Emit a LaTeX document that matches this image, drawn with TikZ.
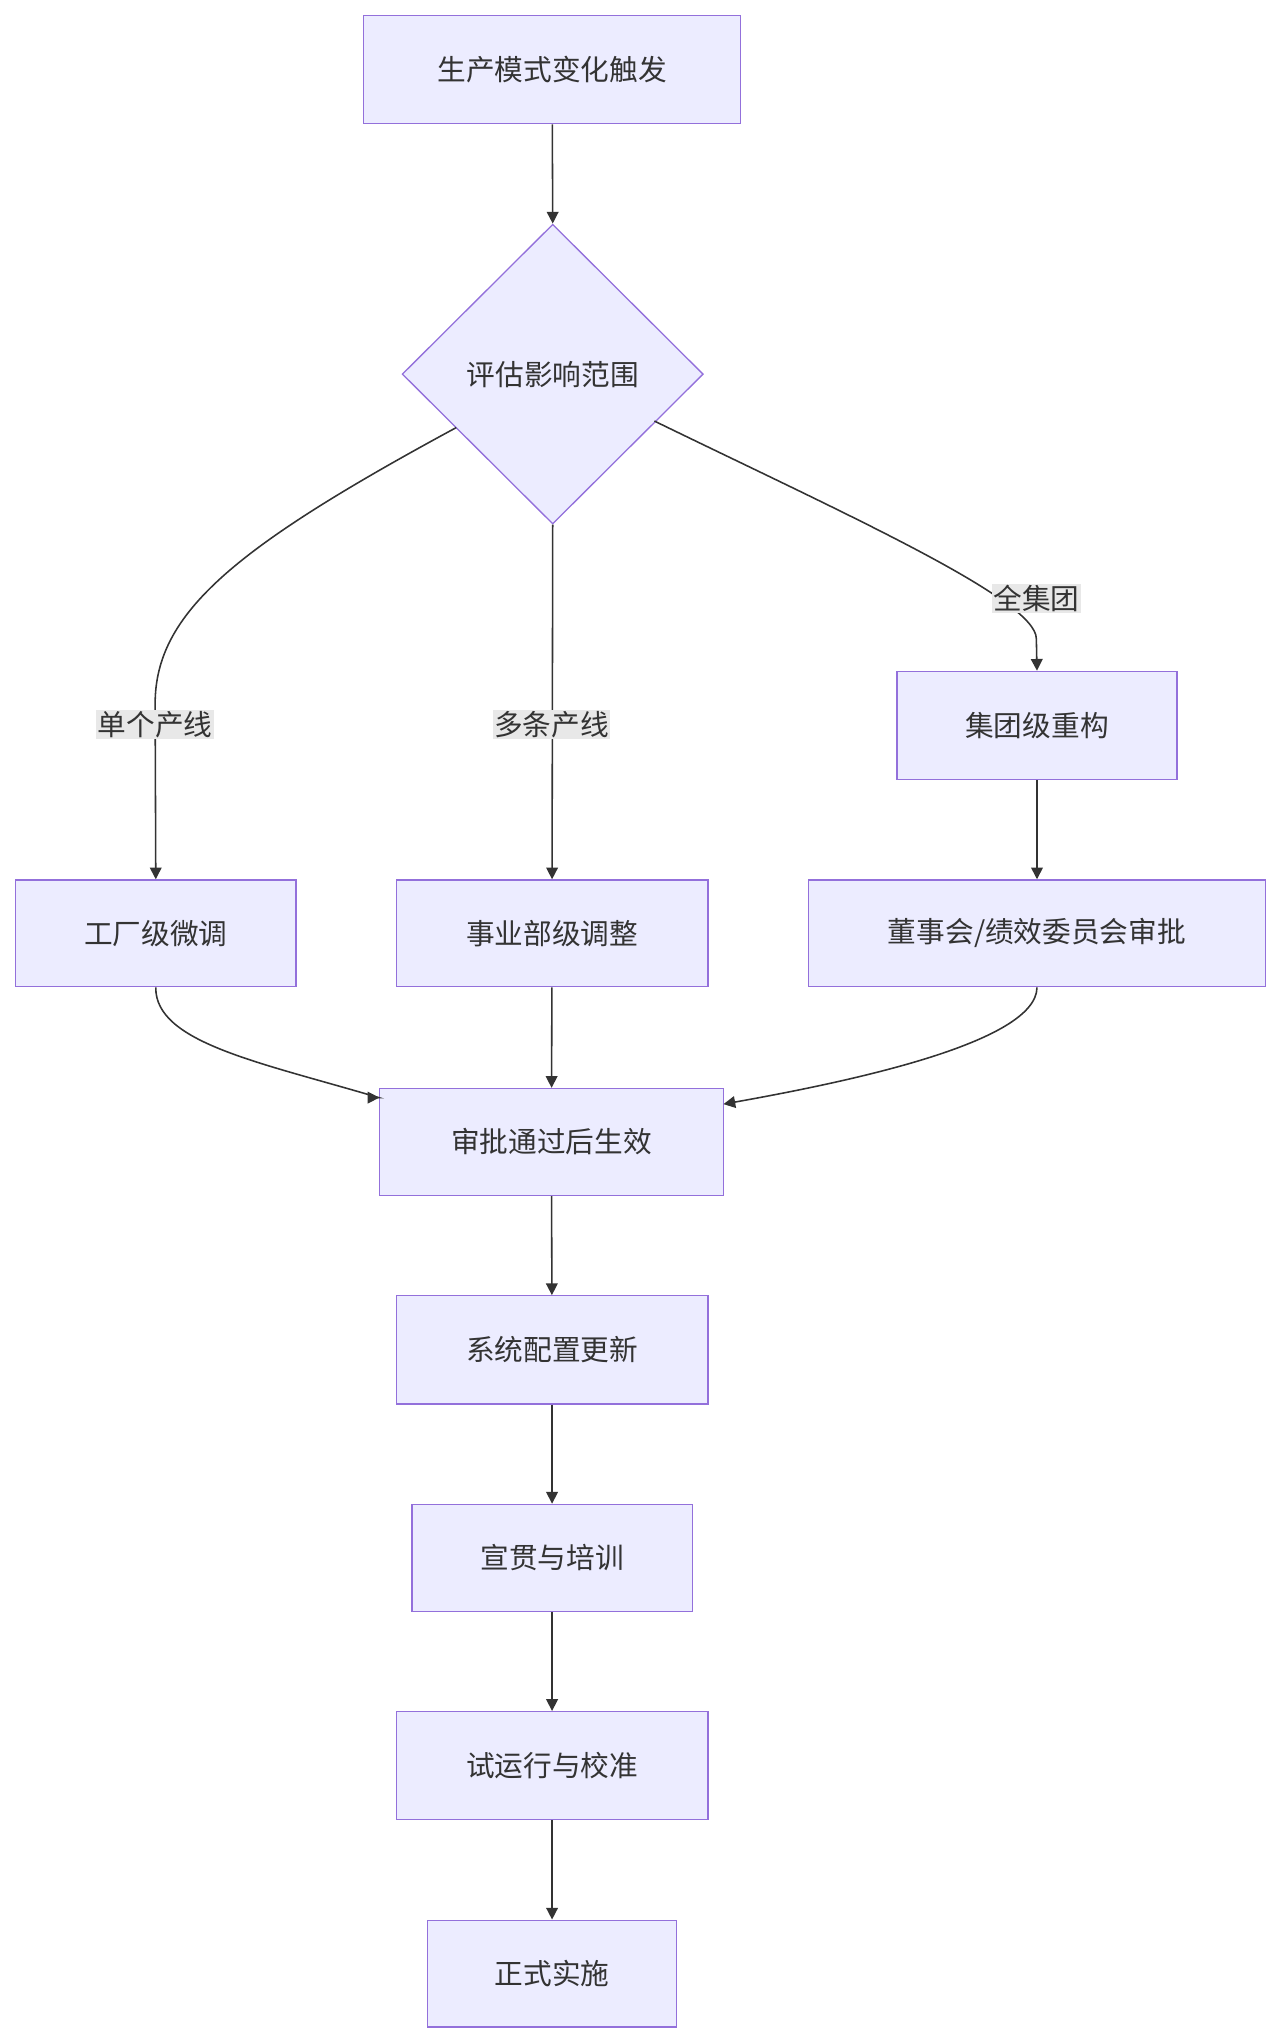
\documentclass[tikz,border=0pt]{standalone}
\usepackage{fontspec}
\setmainfont{Noto Sans CJK SC}
\usetikzlibrary{shapes.geometric,arrows.meta}
\definecolor{nfill}{HTML}{ECECFF}
\definecolor{nstroke}{HTML}{9370DB}
\definecolor{ln}{HTML}{333333}
\definecolor{lbg}{HTML}{E8E8E8}
\begin{document}
\begin{tikzpicture}[x=1pt,y=-1pt,
  box/.style={draw=nstroke,fill=nfill,line width=1pt,inner sep=0pt,font=\fontsize{22}{26}\selectfont,text=ln},
  lbl/.style={fill=lbg,inner sep=1pt,font=\fontsize{22}{26}\selectfont,text=ln},
  arr/.style={draw=ln,line width=1.2pt,-{Triangle[length=9pt,width=9pt]}}]
\useasboundingbox (0,0) rectangle (983,1568);
\node[box,minimum width=289,minimum height=83] (a) at (423.5,53.5) {生产模式变化触发};
\node[box,diamond,aspect=1,minimum width=231,minimum height=230] (d) at (424,287) {评估影响范围};
\node[box,minimum width=215,minimum height=82] (f) at (119.5,716) {工厂级微调};
\node[box,minimum width=239,minimum height=82] (b) at (423.5,716) {事业部级调整};
\node[box,minimum width=215,minimum height=83] (g) at (795.5,556.5) {集团级重构};
\node[box,minimum width=351,minimum height=82] (h) at (795.5,716) {董事会/绩效委员会审批};
\node[box,minimum width=264,minimum height=82] (s) at (423,876) {审批通过后生效};
\node[box,minimum width=239,minimum height=83] (c) at (423.5,1035.5) {系统配置更新};
\node[box,minimum width=215,minimum height=82] (x) at (423.5,1195) {宣贯与培训};
\node[box,minimum width=239,minimum height=83] (t) at (423.5,1354.5) {试运行与校准};
\node[box,minimum width=191,minimum height=82] (z) at (423.5,1514) {正式实施};
\coordinate (dl) at (350,328);
\coordinate (dr) at (502,323);
\draw[arr] (a) -- (d.north);
\draw[arr] (dl) .. controls (180,420) and (119,470) .. (119,540) -- (f.north);
\draw[arr] (d.south) -- (b.north);
\draw[arr] (dr) .. controls (650,395) and (795,460) .. (795,490) -- (g.north);
\draw[arr] (g) -- (h);
\draw[arr] (f.south) .. controls (119,800) and (200,815) .. (s.north west |- 0,842) -- (291,842);
\draw[arr] (b) -- (s);
\draw[arr] (h.south) .. controls (795,800) and (650,830) .. (555,847);
\draw[arr] (s) -- (c);
\draw[arr] (c) -- (x);
\draw[arr] (x) -- (t);
\draw[arr] (t) -- (z);
\node[lbl] (l1) at (119,556) {单个产线};
\node[lbl] (l2) at (423,556) {多条产线};
\node[lbl] (l3) at (795,459) {全集团};
\end{tikzpicture}
\end{document}
